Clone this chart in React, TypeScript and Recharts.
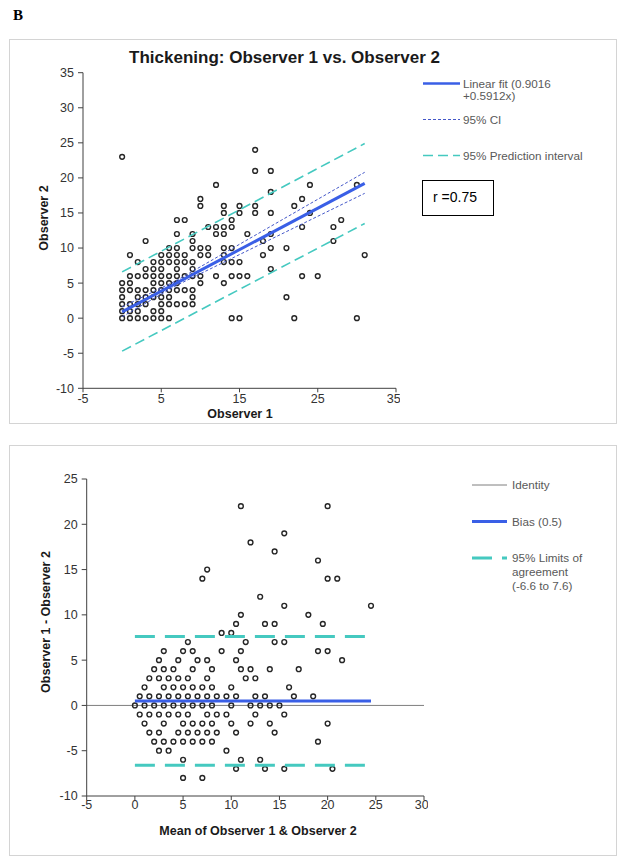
import React from 'react';
import { ScatterChart, Scatter, XAxis, YAxis, ReferenceLine } from 'recharts';

const FONT = '"Liberation Sans", Arial, Helvetica, sans-serif';

// ---------- Top chart data: rows of [Observer 2 value, Observer 1 values] ----------
const thickeningRows: [number, number[]][] = [
  [24, [17]],
  [23, [0]],
  [21, [17, 19]],
  [19, [12, 24, 30]],
  [18, [19]],
  [17, [10, 23]],
  [16, [10, 13, 15, 17, 22]],
  [15, [13, 15, 17, 19, 24]],
  [14, [7, 8, 14, 28]],
  [13, [11, 12, 13, 14, 23, 27]],
  [12, [7, 9, 12, 13, 16, 19]],
  [11, [3, 9, 18, 27]],
  [10, [6, 7, 9, 10, 11, 13, 14, 19, 21]],
  [9, [1, 5, 6, 7, 8, 10, 11, 13, 18, 31]],
  [8, [2, 4, 5, 6, 7, 8, 9, 13, 14, 15]],
  [7, [3, 4, 5, 7, 9, 19]],
  [6, [1, 2, 3, 4, 5, 6, 7, 8, 9, 10, 12, 14, 15, 16, 23, 25]],
  [5, [0, 1, 4, 5, 6, 7, 10, 13]],
  [4, [0, 1, 2, 3, 4, 5, 6, 7, 8, 9]],
  [3, [0, 2, 3, 4, 5, 6, 9, 21]],
  [2, [0, 1, 2, 3, 5, 6, 7, 8, 9]],
  [1, [0, 1, 2, 4, 5]],
  [0, [0, 1, 2, 3, 4, 5, 6, 14, 15, 22, 30]],
];

const fitLine = [
  { x: 0, y: 0.9016 },
  { x: 31, y: 19.23 },
];
const ciUpper = [
  { x: 0, y: 1.6 },
  { x: 7, y: 5.4 },
  { x: 31, y: 20.8 },
];
const ciLower = [
  { x: 0, y: 0.2 },
  { x: 7, y: 4.7 },
  { x: 31, y: 17.8 },
];
const piUpper = [
  { x: 0, y: 6.6 },
  { x: 31, y: 24.9 },
];
const piLower = [
  { x: 0, y: -4.7 },
  { x: 31, y: 13.5 },
];
const topXTicks = [-5, 5, 15, 25, 35];
const topYTicks = [-10, -5, 0, 5, 10, 15, 20, 25, 30, 35];

// ---------- Bottom chart data: rows of [difference, means] ----------
const blandAltmanRows: [number, number[]][] = [
  [22, [11, 20]],
  [19, [15.5]],
  [18, [12]],
  [17, [14.5]],
  [16, [19]],
  [15, [7.5]],
  [14, [7, 20, 21]],
  [12, [13]],
  [11, [15.5, 24.5]],
  [10, [11, 18]],
  [9, [10.5, 13.5, 14.5, 19.5]],
  [8, [9, 10]],
  [7, [5.5, 11.5, 14.5, 15.5]],
  [6, [3, 5, 6, 9, 11, 19, 20]],
  [5, [2.5, 4.5, 6.5, 7.5, 10.5, 21.5]],
  [4, [2, 3, 4, 6, 8, 11, 12, 14, 17]],
  [3, [1.5, 2.5, 3.5, 4.5, 5.5, 7.5, 11.5, 12.5]],
  [2, [1, 3, 4, 5, 6, 7, 8, 10, 16]],
  [1, [0.5, 1.5, 2.5, 3.5, 4.5, 5.5, 6.5, 7.5, 8.5, 9.5, 10.5, 12.5, 13.5, 16.5, 18.5]],
  [0, [0, 1, 2, 3, 4, 5, 6, 7, 8, 10, 12, 13, 14, 15]],
  [-1, [0.5, 1.5, 2.5, 3.5, 4.5, 5.5, 7.5, 8.5, 9.5, 12.5, 15.5]],
  [-2, [1, 3, 5, 6, 7, 8, 10, 12, 14, 20]],
  [-3, [1.5, 2.5, 4.5, 5.5, 6.5, 7.5, 8.5, 10.5, 14.5]],
  [-4, [2, 3, 4, 5, 6, 7, 8, 19]],
  [-5, [2.5, 3.5, 9.5]],
  [-6, [5, 11, 13]],
  [-7, [10.5, 13.5, 15.5, 20.5]],
  [-8, [5, 7]],
];

const biasLine = [
  { x: 0, y: 0.5 },
  { x: 24.5, y: 0.5 },
];
const loaUpper = [
  { x: 0, y: 7.6 },
  { x: 24, y: 7.6 },
];
const loaLower = [
  { x: 0, y: -6.6 },
  { x: 24, y: -6.6 },
];
const bottomXTicks = [-5, 0, 5, 10, 15, 20, 25, 30];
const bottomYTicks = [-10, -5, 0, 5, 10, 15, 20, 25];

const toPoints = (rows: [number, number[]][]) =>
  rows.flatMap(([y, xs]) => xs.map((x) => ({ x, y })));

const thickeningPoints = toPoints(thickeningRows);
const blandAltmanPoints = toPoints(blandAltmanRows);

// ---------- styles ----------
const BLUE = '#3a5fe6';
const CI_BLUE = '#4457c8';
const CYAN = '#45c9c0';
const AXIS = '#404040';

const OpenCircle = (props: any) => {
  const { cx, cy } = props;
  if (cx == null || cy == null) return <g />;
  return <circle cx={cx} cy={cy} r={2.4} fill="none" stroke="#262626" strokeWidth={1.4} />;
};
const NoShape = () => <g />;

const tickStyle = { fontFamily: FONT, fontSize: 12.5, fill: '#333' };

function TopChart() {
  return (
    <div style={{ position: 'absolute', left: 10, top: 41 }}>
      <ScatterChart width={390} height={380} margin={{ top: 31.7, right: 4, bottom: 0, left: 0 }}>
        <XAxis
          type="number"
          dataKey="x"
          domain={[-5, 35]}
          ticks={topXTicks}
          allowDataOverflow
          height={32.7}
          tickSize={4}
          tickMargin={2}
          tick={tickStyle}
          stroke={AXIS}
          tickLine={{ stroke: AXIS }}
        />
        <YAxis
          type="number"
          dataKey="y"
          domain={[-10, 35]}
          ticks={topYTicks}
          allowDataOverflow
          width={73}
          tickSize={5}
          tickMargin={4}
          tick={tickStyle}
          stroke={AXIS}
          tickLine={{ stroke: AXIS }}
        />
        <Scatter data={thickeningPoints} shape={OpenCircle} isAnimationActive={false} />
        <Scatter
          data={piUpper}
          shape={NoShape}
          line={{ stroke: CYAN, strokeWidth: 1.6, strokeDasharray: '10 5' }}
          isAnimationActive={false}
        />
        <Scatter
          data={piLower}
          shape={NoShape}
          line={{ stroke: CYAN, strokeWidth: 1.6, strokeDasharray: '10 5' }}
          isAnimationActive={false}
        />
        <Scatter data={fitLine} shape={NoShape} line={{ stroke: BLUE, strokeWidth: 3 }} isAnimationActive={false} />
        <Scatter
          data={ciUpper}
          shape={NoShape}
          line={{ stroke: CI_BLUE, strokeWidth: 1, strokeDasharray: '3 2' }}
          isAnimationActive={false}
        />
        <Scatter
          data={ciLower}
          shape={NoShape}
          line={{ stroke: CI_BLUE, strokeWidth: 1, strokeDasharray: '3 2' }}
          isAnimationActive={false}
        />
      </ScatterChart>
    </div>
  );
}

function BottomChart() {
  return (
    <div style={{ position: 'absolute', left: 10, top: 446 }}>
      <ScatterChart width={418} height={380} margin={{ top: 33, right: 4, bottom: 0, left: 0 }}>
        <XAxis
          type="number"
          dataKey="x"
          domain={[-5, 30]}
          ticks={bottomXTicks}
          allowDataOverflow
          height={30}
          tickSize={4}
          tickMargin={0}
          tick={tickStyle}
          stroke={AXIS}
          tickLine={{ stroke: AXIS }}
        />
        <YAxis
          type="number"
          dataKey="y"
          domain={[-10, 25]}
          ticks={bottomYTicks}
          allowDataOverflow
          width={76.7}
          tickSize={5}
          tickMargin={4}
          tick={tickStyle}
          stroke={AXIS}
          tickLine={{ stroke: AXIS }}
        />
        <ReferenceLine y={0} stroke="#7f7f7f" strokeWidth={1} />
        <Scatter data={blandAltmanPoints} shape={OpenCircle} isAnimationActive={false} />
        <Scatter
          data={loaUpper}
          shape={NoShape}
          line={{ stroke: CYAN, strokeWidth: 3, strokeDasharray: '20 10' }}
          isAnimationActive={false}
        />
        <Scatter
          data={loaLower}
          shape={NoShape}
          line={{ stroke: CYAN, strokeWidth: 3, strokeDasharray: '20 10' }}
          isAnimationActive={false}
        />
        <Scatter data={biasLine} shape={NoShape} line={{ stroke: BLUE, strokeWidth: 3 }} isAnimationActive={false} />
      </ScatterChart>
    </div>
  );
}

function Overlay() {
  const legendText = { fontFamily: FONT, fontSize: 11.7, fill: '#595959' } as const;
  const axisTitle = { fontFamily: FONT, fontSize: 12.5, fontWeight: 'bold', fill: '#1a1a1a' } as const;
  return (
    <svg
      width={624}
      height={865}
      style={{ position: 'absolute', left: 0, top: 0, pointerEvents: 'none' }}
    >
      <text x={13} y={20} style={{ fontFamily: '"Liberation Serif", "Times New Roman", serif', fontSize: 15, fontWeight: 'bold' }} fill="#000">
        B
      </text>
      {/* frames */}
      <rect x={9.5} y={39.5} width={607} height={384} fill="none" stroke="#d4d4d4" strokeWidth={1} />
      <rect x={9.5} y={445.5} width={607} height={410} fill="none" stroke="#d4d4d4" strokeWidth={1} />

      {/* top title */}
      <text x={284.5} y={63} textAnchor="middle" style={{ fontFamily: FONT, fontSize: 17, fontWeight: 'bold' }} fill="#1a1a1a">
        Thickening: Observer 1 vs. Observer 2
      </text>
      <text x={240} y={418} textAnchor="middle" style={axisTitle}>Observer 1</text>
      <text x={48} y={218} textAnchor="middle" transform="rotate(-90 48 218)" style={axisTitle}>Observer 2</text>

      {/* top legend */}
      <line x1={423} x2={460} y1={83.5} y2={83.5} stroke={BLUE} strokeWidth={2.5} />
      <text x={463} y={87.5} style={legendText}>Linear fit (0.9016</text>
      <text x={463} y={99.5} style={legendText}>+0.5912x)</text>
      <line x1={423} x2={460} y1={119.5} y2={119.5} stroke={CI_BLUE} strokeWidth={1} strokeDasharray="3 2" />
      <text x={463} y={123.5} style={legendText}>95% CI</text>
      <line x1={423} x2={460} y1={155.5} y2={155.5} stroke={CYAN} strokeWidth={1.6} strokeDasharray="10 5" />
      <text x={463} y={159.5} style={legendText}>95% Prediction interval</text>
      <rect x={422.5} y={180.5} width={71} height={35} fill="#fff" stroke="#000" strokeWidth={1} />
      <text x={433} y={202} style={{ fontFamily: FONT, fontSize: 14 }} fill="#000">r =0.75</text>

      {/* bottom titles */}
      <text x={258} y={835} textAnchor="middle" style={axisTitle}>Mean of Observer 1 &amp; Observer 2</text>
      <text x={50} y={622} textAnchor="middle" transform="rotate(-90 50 622)" style={axisTitle}>Observer 1 - Observer 2</text>

      {/* bottom legend */}
      <line x1={472} x2={507} y1={485} y2={485} stroke="#7f7f7f" strokeWidth={1} />
      <text x={512} y={489} style={legendText}>Identity</text>
      <line x1={472} x2={507} y1={521.5} y2={521.5} stroke={BLUE} strokeWidth={3} />
      <text x={512} y={525.5} style={legendText}>Bias (0.5)</text>
      <line x1={472} x2={507} y1={558} y2={558} stroke={CYAN} strokeWidth={3} strokeDasharray="20 10" />
      <text x={512} y={562} style={legendText}>95% Limits of</text>
      <text x={512} y={576} style={legendText}>agreement</text>
      <text x={512} y={590} style={legendText}>(-6.6 to 7.6)</text>
    </svg>
  );
}

export default function App() {
  return (
    <div style={{ position: 'absolute', left: 0, top: 0, width: 624, height: 865, background: '#fff', fontFamily: FONT }}>
      <TopChart />
      <BottomChart />
      <Overlay />
    </div>
  );
}
